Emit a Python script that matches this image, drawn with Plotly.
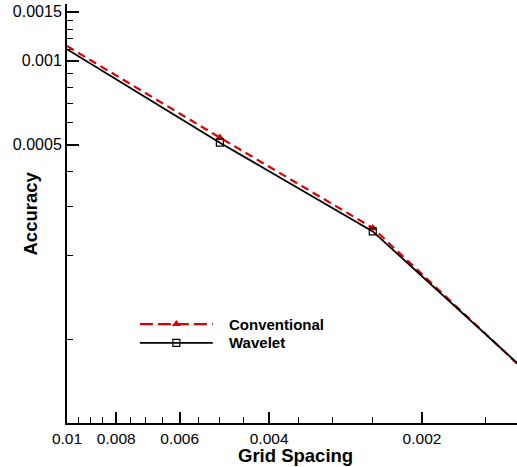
import numpy as np
import plotly.graph_objects as go

# ---- data ----
grid_spacing = [0.01, 0.005, 0.0025, 0.00125]
conventional = [0.00113, 0.00053, 0.000251, 0.0000765]
wavelet = [0.0011, 0.000508, 0.000244, 0.0000770]

x_tickvals = [0.01, 0.008, 0.006, 0.004, 0.002]
x_ticktext = ["0.01", "0.008", "0.006", "0.004", "0.002"]
x_minor = [0.0095, 0.009, 0.0085, 0.0075, 0.007, 0.0065, 0.0055, 0.005,
           0.0045, 0.0035, 0.003, 0.0025, 0.0015]
y_tickvals = [0.0015, 0.001, 0.0005]
y_ticktext = ["0.0015", "0.001", "0.0005"]
y_minor = [0.0014, 0.0013, 0.0012, 0.0011, 0.0009, 0.0008, 0.0007, 0.0006,
           0.0004, 0.0003, 0.0002, 0.0001]

RED = "#dd0000"
FONT = "Liberation Sans, Arial, sans-serif"

fig = go.Figure()
fig.add_trace(go.Scatter(
    x=grid_spacing, y=conventional, mode="lines+markers", name="Conventional",
    line=dict(color=RED, width=2.2, dash="8px,5px"),
    marker=dict(symbol="triangle-up", size=8, color=RED),
    cliponaxis=False, showlegend=False))
fig.add_trace(go.Scatter(
    x=grid_spacing, y=wavelet, mode="lines+markers", name="Wavelet",
    line=dict(color="black", width=1.8),
    marker=dict(symbol="square-open", size=7, color="black", line=dict(width=1.2)),
    cliponaxis=False, showlegend=False))

# ---- manual legend (overlay axis in [0,1]) ----
leg_x = [0.162, 0.243, 0.324]
leg_rows = [0.236, 0.191]
fig.add_trace(go.Scatter(
    x=leg_x, y=[leg_rows[0]] * 3, xaxis="x2", yaxis="y2", mode="lines+markers",
    line=dict(color=RED, width=2.2, dash="13px,5px"),
    marker=dict(symbol="triangle-up", size=8, color=RED, opacity=[0, 1, 0]),
    showlegend=False, hoverinfo="skip"))
fig.add_trace(go.Scatter(
    x=leg_x, y=[leg_rows[1]] * 3, xaxis="x2", yaxis="y2", mode="lines+markers",
    line=dict(color="black", width=1.8),
    marker=dict(symbol="square-open", size=7, color="black", opacity=[0, 1, 0],
                line=dict(width=1.2)),
    showlegend=False, hoverinfo="skip"))

annotations = [
    dict(text="Conventional", x=0.356, y=leg_rows[0], xref="paper", yref="paper",
         xanchor="left", yanchor="middle", showarrow=False,
         font=dict(family=FONT, size=15, color="black", weight="bold")),
    dict(text="Wavelet", x=0.356, y=leg_rows[1], xref="paper", yref="paper",
         xanchor="left", yanchor="middle", showarrow=False,
         font=dict(family=FONT, size=15, color="black", weight="bold")),
    dict(text="Grid Spacing", x=0.507, y=-0.105, xref="paper", yref="paper",
         xanchor="center", yanchor="bottom", showarrow=False, borderpad=0,
         font=dict(family=FONT, size=18.5, color="black", weight="bold")),
    dict(text="Accuracy", x=-0.0822, y=0.5, xref="paper", yref="paper",
         xanchor="center", yanchor="middle", showarrow=False, textangle=-90,
         font=dict(family=FONT, size=18.5, color="black", weight="bold")),
]

fig.update_layout(
    width=517, height=467,
    margin=dict(l=67, r=0, t=4, b=44),
    paper_bgcolor="white", plot_bgcolor="white",
    showlegend=False,
    font=dict(family=FONT, size=16, color="black"),
    annotations=annotations,
    xaxis=dict(
        type="log", range=[np.log10(0.01), np.log10(0.0013)],
        tickmode="array", tickvals=x_tickvals, ticktext=x_ticktext,
        ticks="inside", ticklen=11, tickwidth=2, tickcolor="black",
        showline=True, linewidth=2, linecolor="black", showgrid=False,
        tickfont=dict(family=FONT, size=15.5, color="black"),
        minor=dict(tickvals=x_minor, ticks="inside", ticklen=6, tickwidth=1,
                   tickcolor="black", showgrid=False),
    ),
    yaxis=dict(
        type="log", range=[np.log10(0.00005), np.log10(0.0016)],
        tickmode="array", tickvals=y_tickvals, ticktext=y_ticktext,
        ticks="inside", ticklen=12, tickwidth=2, tickcolor="black",
        showline=True, linewidth=2, linecolor="black", showgrid=False,
        tickfont=dict(family=FONT, size=16, color="black"),
        minor=dict(tickvals=y_minor, ticks="inside", ticklen=6, tickwidth=1,
                   tickcolor="black", showgrid=False),
    ),
    xaxis2=dict(overlaying="x", range=[0, 1], visible=False, fixedrange=True),
    yaxis2=dict(overlaying="y", range=[0, 1], visible=False, fixedrange=True),
)

fig.write_html("out.html")
